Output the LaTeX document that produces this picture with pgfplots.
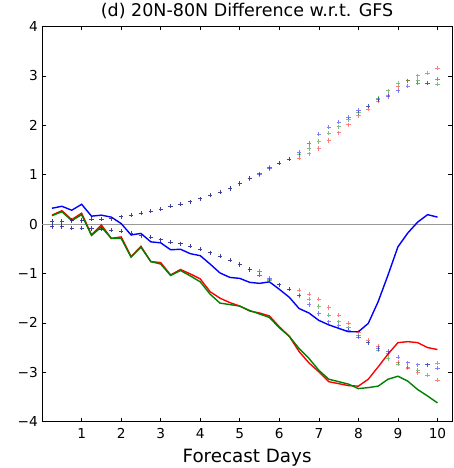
\documentclass[border=0pt]{standalone}
\usepackage{pgfplots}
\pgfplotsset{compat=1.18}
\usepackage{pgfplotstable}
\usepackage{fontspec}
\setmainfont{DejaVu Sans}

\definecolor{mplred}{rgb}{1,0,0}
\definecolor{mplgreen}{rgb}{0,0.5,0}
\definecolor{mplblue}{rgb}{0,0,1}

% Area-mean difference w.r.t. GFS, by forecast day
\pgfplotstableread{
d     blue   red    green
0.25  0.32   0.18   0.17
0.50  0.36   0.27   0.25
0.75  0.28   0.09   0.07
1.00  0.40   0.22   0.19
1.25  0.16  -0.22  -0.23
1.50  0.18  -0.02  -0.06
1.75  0.14  -0.29  -0.29
2.00  0.01  -0.26  -0.29
2.25 -0.22  -0.66  -0.67
2.50 -0.19  -0.45  -0.47
2.75 -0.36  -0.76  -0.76
3.00 -0.38  -0.78  -0.81
3.25 -0.52  -1.03  -1.04
3.50 -0.51  -0.92  -0.94
3.75 -0.60  -1.01  -1.05
4.00 -0.64  -1.11  -1.17
4.25 -0.81  -1.37  -1.42
4.50 -0.99  -1.50  -1.60
4.75 -1.08  -1.59  -1.63
5.00 -1.10  -1.66  -1.66
5.25 -1.18  -1.76  -1.75
5.50 -1.20  -1.80  -1.82
5.75 -1.17  -1.86  -1.89
6.00 -1.32  -2.08  -2.10
6.25 -1.48  -2.27  -2.27
6.50 -1.71  -2.58  -2.52
6.75 -1.80  -2.81  -2.72
7.00 -1.95  -2.99  -2.96
7.25 -2.04  -3.19  -3.14
7.50 -2.11  -3.23  -3.19
7.75 -2.18  -3.27  -3.24
8.00 -2.18  -3.28  -3.33
8.25 -2.01  -3.14  -3.31
8.50 -1.57  -2.89  -3.28
8.75 -1.03  -2.63  -3.14
9.00 -0.46  -2.40  -3.08
9.25 -0.18  -2.38  -3.18
9.50  0.04  -2.40  -3.35
9.75  0.19  -2.50  -3.48
10.00 0.14  -2.54  -3.62
}\difftable

% Significance bounds (upper and lower) for each experiment
\pgfplotstableread{
d     ru    gu    bu    rl     gl     bl
0.25  0.05  0.05  0.05 -0.05  -0.04  -0.05
0.50  0.05  0.05  0.05 -0.05  -0.05  -0.05
0.75  0.07  0.07  0.07 -0.08  -0.08  -0.08
1.00  0.07  0.07  0.07 -0.08  -0.08  -0.08
1.25  0.10  0.10  0.10 -0.09  -0.09  -0.09
1.50  0.10  0.10  0.10 -0.10  -0.10  -0.10
1.75  0.11  0.11  0.11 -0.12  -0.12  -0.12
2.00  0.15  0.15  0.15 -0.14  -0.14  -0.14
2.25  0.18  0.18  0.18 -0.19  -0.19  -0.19
2.50  0.22  0.22  0.22 -0.23  -0.23  -0.23
2.75  0.26  0.26  0.26 -0.27  -0.27  -0.27
3.00  0.30  0.30  0.30 -0.32  -0.32  -0.32
3.25  0.36  0.36  0.36 -0.37  -0.37  -0.37
3.50  0.40  0.40  0.40 -0.40  -0.40  -0.40
3.75  0.45  0.45  0.45 -0.45  -0.45  -0.45
4.00  0.51  0.51  0.51 -0.51  -0.51  -0.51
4.25  0.58  0.58  0.58 -0.58  -0.58  -0.58
4.50  0.65  0.65  0.65 -0.65  -0.65  -0.65
4.75  0.72  0.72  0.72 -0.73  -0.73  -0.73
5.00  0.82  0.82  0.82 -0.82  -0.82  -0.82
5.25  0.92  0.92  0.93 -0.92  -0.92  -0.92
5.50  1.02  1.02  1.00 -1.03  -1.03  -0.96
5.75  1.15  1.14  1.12 -1.13  -1.15  -1.10
6.00  1.23  1.23  1.23 -1.23  -1.23  -1.23
6.25  1.31  1.31  1.31 -1.32  -1.32  -1.32
6.50  1.33  1.40  1.45 -1.34  -1.44  -1.45
6.75  1.42  1.53  1.63 -1.42  -1.52  -1.63
7.00  1.53  1.67  1.82 -1.52  -1.67  -1.81
7.25  1.69  1.84  1.96 -1.69  -1.84  -1.98
7.50  1.85  1.97  2.06 -1.84  -1.98  -2.06
7.75  2.01  2.11  2.16 -2.01  -2.10  -2.15
8.00  2.19  2.25  2.30 -2.19  -2.26  -2.29
8.25  2.33  2.39  2.39 -2.35  -2.40  -2.40
8.50  2.49  2.54  2.52 -2.48  -2.55  -2.52
8.75  2.61  2.70  2.58 -2.62  -2.72  -2.58
9.00  2.78  2.85  2.70 -2.79  -2.84  -2.69
9.25  2.90  2.90  2.79 -2.92  -2.90  -2.81
9.50  3.00  2.91  2.85 -3.01  -2.96  -2.85
9.75  3.05  2.85  2.85 -3.06  -2.85  -2.85
10.00 3.16  2.83  2.93 -3.16  -2.82  -2.92
}\boundtable

\begin{document}
\begin{tikzpicture}
\path[use as bounding box] (-42.1pt,-46.3pt) rectangle (410.9pt,421.7pt);
\begin{axis}[
  at={(0pt,0pt)}, anchor=south west,
  scale only axis, width=410pt, height=395.3pt,
  xmin=0, xmax=10.37, ymin=-4, ymax=4,
  xtick={1,2,3,4,5,6,7,8,9,10},
  xticklabels={1,2,3,4,5,6,7,8,9,10},
  ytick={-4,-3,-2,-1,0,1,2,3,4},
  yticklabels={−4,−3,−2,−1,0,1,2,3,4},
  /pgf/number format/assume math mode=true,
  tick align=inside,
  major tick length=4pt,
  tick style={black, line width=0.6pt},
  axis line style={black, line width=0.9pt},
  tick label style={font=\fontsize{13.7}{16}\selectfont},
  xticklabel style={yshift=-3pt},
  yticklabel style={xshift=-0.7pt},
  title={(d) 20N-80N Difference w.r.t. GFS},
  title style={at={(0.5,1)}, anchor=base, yshift=4pt,
    font=\fontsize{17.5}{20}\selectfont},
  xlabel={Forecast Days},
  xlabel style={at={(0.5,0)}, anchor=base, yshift=-41pt,
    font=\fontsize{18.3}{21}\selectfont},
  clip=true,
]
% zero reference
\addplot[gray!80, line width=0.9pt] coordinates {(0,0) (10.37,0)};

% bounds as plus marks
\pgfplotsset{boundmark/.style={only marks, mark=+, mark size=2.1pt,
  mark options={line width=0.8pt}, opacity=0.5}}
\addplot[boundmark, mplred]   table[x=d, y=ru] {\boundtable};
\addplot[boundmark, mplgreen] table[x=d, y=gu] {\boundtable};
\addplot[boundmark, mplblue]  table[x=d, y=bu] {\boundtable};
\addplot[boundmark, mplred]   table[x=d, y=rl] {\boundtable};
\addplot[boundmark, mplgreen] table[x=d, y=gl] {\boundtable};
\addplot[boundmark, mplblue]  table[x=d, y=bl] {\boundtable};

% differences
\addplot[mplblue,  line width=1.4pt, no marks] table[x=d, y=blue]  {\difftable};
\addplot[mplred,   line width=1.4pt, no marks] table[x=d, y=red]   {\difftable};
\addplot[mplgreen, line width=1.4pt, no marks] table[x=d, y=green] {\difftable};
\end{axis}
\end{tikzpicture}
\end{document}
